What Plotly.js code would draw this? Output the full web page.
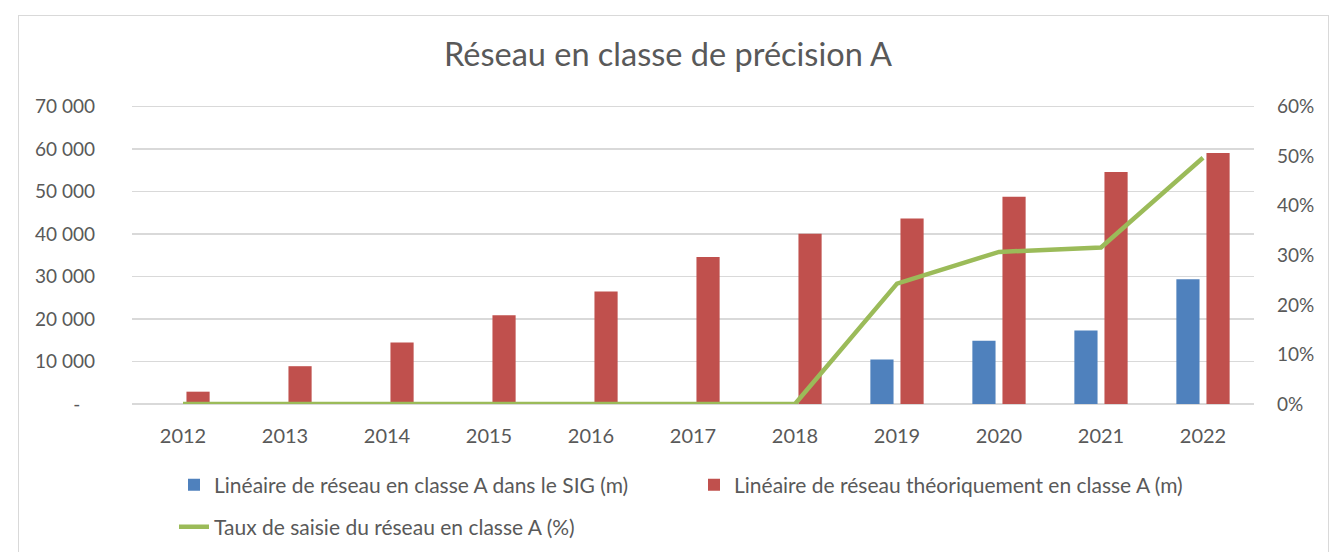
<!DOCTYPE html>
<html>
<head>
<meta charset="utf-8">
<script src="https://cdn.plot.ly/plotly-3.0.1.min.js"></script>
<style>
  html, body { margin: 0; padding: 0; background: #fff; }
  #wrap { position: relative; width: 1336px; height: 552px; overflow: hidden; }
  #frame { position: absolute; left: 18px; top: 15px; width: 1311px; height: 600px; border: 1px solid #d9d9d9; box-sizing: border-box; pointer-events: none; }
  #chart { position: absolute; left: 0; top: 0; width: 1336px; height: 552px; }
</style>
</head>
<body>
<div id="wrap">
  <div id="chart"></div>
  <div id="frame"></div>
</div>
<script>
const years = ["2012","2013","2014","2015","2016","2017","2018","2019","2020","2021","2022"];
const sigLength = [0, 0, 0, 0, 0, 0, 0, 10500, 14900, 17300, 29400];
const theoLength = [2900, 8900, 14500, 20900, 26500, 34600, 40100, 43700, 48800, 54600, 59100];
const rate = [0, 0, 0, 0, 0, 0, 0, 0.243, 0.307, 0.316, 0.497];
const leftTickVals = [0, 10000, 20000, 30000, 40000, 50000, 60000, 70000];
const leftTickText = ["-\u00a0\u00a0\u00a0", "10 000", "20 000", "30 000", "40 000", "50 000", "60 000", "70 000"];
const rightTickVals = [0, 0.1, 0.2, 0.3, 0.4, 0.5, 0.6];
const rightTickText = ["0%", "10%", "20%", "30%", "40%", "50%", "60%"];

const FONT = "Lato, 'Open Sans', sans-serif";
const GREY = "#595959";

const traces = [
  {
    type: "bar", x: years, y: sigLength,
    name: "Linéaire de réseau en classe A dans le SIG (m)",
    marker: { color: "#4F81BD" }, legend: "legend"
  },
  {
    type: "bar", x: years, y: theoLength,
    name: "Linéaire de réseau théoriquement en classe A (m)",
    marker: { color: "#C0504D" }, legend: "legend2"
  },
  {
    type: "scatter", mode: "lines", x: years, y: rate, yaxis: "y2",
    name: "Taux de saisie du réseau en classe A (%)",
    line: { color: "#9BBB59", width: 4.5 }, legend: "legend3"
  }
];

const W = 1336, H = 552;
function cx(px) { return px / W; }
function cy(py) { return 1 - py / H; }
const legFont = { family: FONT, size: 21, color: GREY };
const YMAX = 70400;
const plotH = 297.5 * YMAX / 70000;
const topM = 404.5 - plotH;

const layout = {
  width: W, height: H,
  paper_bgcolor: "#ffffff", plot_bgcolor: "#ffffff",
  margin: { l: 132, r: 82, t: topM, b: H - 404.5 },
  font: { family: FONT, color: GREY, size: 19 },
  title: {
    text: "Réseau en classe de précision A",
    font: { family: FONT, size: 32.5, color: GREY },
    x: 0.5, xanchor: "center", y: 1 - 55/552, yanchor: "middle", yref: "container"
  },
  barmode: "group",
  bargap: 0.41,
  bargroupgap: 0.23,
  xaxis: {
    type: "category", automargin: false,
    showgrid: false, zeroline: false, showline: false,
    ticks: "", ticklabelstandoff: 18,
    tickfont: { family: FONT, size: 20, color: GREY }
  },
  yaxis: {
    range: [0, YMAX], automargin: false,
    tickvals: leftTickVals, ticktext: leftTickText,
    showgrid: true, gridcolor: "#d9d9d9", gridwidth: 1.5,
    zeroline: true, zerolinecolor: "#d9d9d9", zerolinewidth: 1.5,
    showline: false, ticks: "", ticklabelstandoff: 36,
    tickfont: { family: FONT, size: 19, color: GREY }
  },
  yaxis2: {
    range: [0, 0.6 * YMAX / 70000], overlaying: "y", side: "right", automargin: false,
    tickvals: rightTickVals, ticktext: rightTickText,
    showgrid: false, zeroline: false, showline: false, ticks: "",
    ticklabelstandoff: 22,
    tickfont: { family: FONT, size: 19, color: GREY }
  },
  legend: {
    orientation: "h", xref: "container", yref: "container",
    x: cx(174), xanchor: "left", y: cy(485), yanchor: "middle",
    font: legFont, bgcolor: "rgba(0,0,0,0)"
  },
  legend2: {
    orientation: "h", xref: "container", yref: "container",
    x: cx(694), xanchor: "left", y: cy(485), yanchor: "middle",
    font: legFont, bgcolor: "rgba(0,0,0,0)"
  },
  legend3: {
    orientation: "h", xref: "container", yref: "container",
    x: cx(174), xanchor: "left", y: cy(527), yanchor: "middle",
    font: legFont, bgcolor: "rgba(0,0,0,0)"
  },
  showlegend: true
};

Plotly.newPlot("chart", traces, layout, { displayModeBar: false, staticPlot: true });
</script>
</body>
</html>
